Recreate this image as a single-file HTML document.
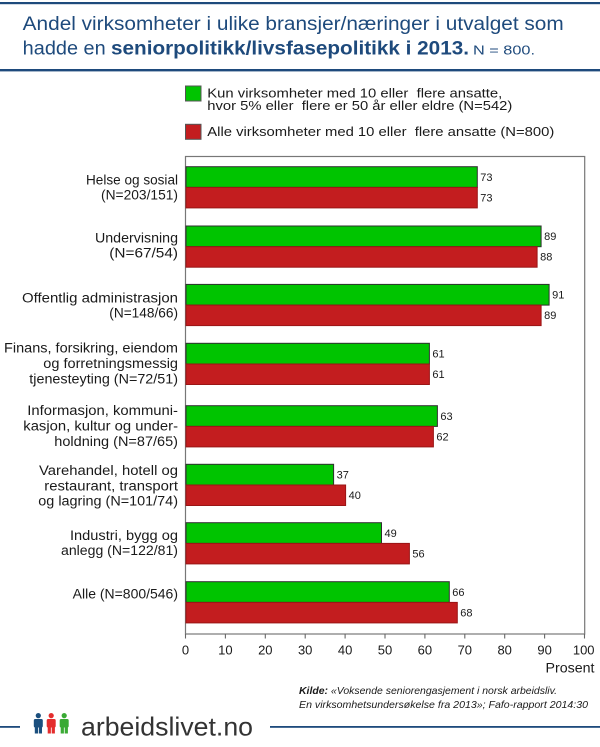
<!DOCTYPE html>
<html>
<head>
<meta charset="utf-8">
<style>
  html, body { margin:0; padding:0; background:#ffffff; }
  svg { display:block; }
  text { font-family: "Liberation Sans", "DejaVu Sans", sans-serif; }
</style>
</head>
<body>
<svg width="600" height="747" viewBox="0 0 600 747" xmlns="http://www.w3.org/2000/svg">
  <rect x="0" y="0" width="600" height="747" fill="#ffffff"/>

  <!-- Header rules -->
  <rect x="0" y="2" width="600" height="2.2" fill="#1e4a7c"/>
  <rect x="0" y="69" width="600" height="2.4" fill="#1e4a7c"/>

  <!-- Title -->
  <text x="22.7" y="30" font-size="19" fill="#1e4a7c" textLength="541" lengthAdjust="spacingAndGlyphs">Andel virksomheter i ulike bransjer/næringer i utvalget som</text>
  <text x="22.7" y="54.3" font-size="19" fill="#1e4a7c" textLength="83" lengthAdjust="spacingAndGlyphs">hadde en</text>
  <text x="111" y="54.3" font-size="19" font-weight="bold" fill="#1e4a7c" textLength="358" lengthAdjust="spacingAndGlyphs">seniorpolitikk/livsfasepolitikk i 2013.</text>
  <text x="473" y="54.3" font-size="13" fill="#1e4a7c" textLength="62" lengthAdjust="spacingAndGlyphs">N = 800.</text>

  <!-- Legend -->
  <rect x="185.5" y="86" width="15.5" height="15" fill="#00c400" stroke="#555" stroke-width="1"/>
  <text x="207.3" y="97.6" font-size="13" fill="#1a1a1a" textLength="295" lengthAdjust="spacingAndGlyphs">Kun virksomheter med 10 eller&#160; flere ansatte,</text>
  <text x="207.3" y="110" font-size="13" fill="#1a1a1a" textLength="305" lengthAdjust="spacingAndGlyphs">hvor 5% eller&#160; flere er 50 år eller eldre (N=542)</text>
  <rect x="185.5" y="124.3" width="15.5" height="15" fill="#c31d1f" stroke="#555" stroke-width="1"/>
  <text x="207.3" y="136" font-size="13" fill="#1a1a1a" textLength="347" lengthAdjust="spacingAndGlyphs">Alle virksomheter med 10 eller&#160; flere ansatte (N=800)</text>

  <!-- Plot box -->
  <rect x="185.5" y="156.5" width="399.2" height="477.5" fill="none" stroke="#777" stroke-width="1.2"/>

  <!-- Bars -->
  <g stroke-width="1">
    <!-- G1 -->
    <rect x="186" y="166.7" width="291.3" height="20.7" fill="#00c400" stroke="#2f2f2f"/>
    <rect x="186" y="187.4" width="291.3" height="20.5" fill="#c31d1f" stroke="#9a1515"/>
    <!-- G2 -->
    <rect x="186" y="226" width="355.1" height="20.7" fill="#00c400" stroke="#2f2f2f"/>
    <rect x="186" y="246.7" width="351.1" height="20.5" fill="#c31d1f" stroke="#9a1515"/>
    <!-- G3 -->
    <rect x="186" y="284.4" width="363.1" height="20.7" fill="#00c400" stroke="#2f2f2f"/>
    <rect x="186" y="305.1" width="355.1" height="20.5" fill="#c31d1f" stroke="#9a1515"/>
    <!-- G4 -->
    <rect x="186" y="343.3" width="243.4" height="20.7" fill="#00c400" stroke="#2f2f2f"/>
    <rect x="186" y="364" width="243.4" height="20.5" fill="#c31d1f" stroke="#9a1515"/>
    <!-- G5 -->
    <rect x="186" y="405.7" width="251.4" height="20.7" fill="#00c400" stroke="#2f2f2f"/>
    <rect x="186" y="426.4" width="247.4" height="20.5" fill="#c31d1f" stroke="#9a1515"/>
    <!-- G6 -->
    <rect x="186" y="464.3" width="147.6" height="20.7" fill="#00c400" stroke="#2f2f2f"/>
    <rect x="186" y="485" width="159.6" height="20.5" fill="#c31d1f" stroke="#9a1515"/>
    <!-- G7 -->
    <rect x="186" y="522.7" width="195.5" height="20.7" fill="#00c400" stroke="#2f2f2f"/>
    <rect x="186" y="543.4" width="223.4" height="20.5" fill="#c31d1f" stroke="#9a1515"/>
    <!-- G8 -->
    <rect x="186" y="581.7" width="263.3" height="20.7" fill="#00c400" stroke="#2f2f2f"/>
    <rect x="186" y="602.4" width="271.3" height="20.5" fill="#c31d1f" stroke="#9a1515"/>
  </g>

  <!-- Value labels -->
  <g font-size="11" fill="#1a1a1a">
    <text x="480.3" y="180.8">73</text>
    <text x="480.3" y="201.4">73</text>
    <text x="544.1" y="240.1">89</text>
    <text x="540.1" y="260.7">88</text>
    <text x="552.1" y="298.5">91</text>
    <text x="544.1" y="319.1">89</text>
    <text x="432.4" y="357.4">61</text>
    <text x="432.4" y="378">61</text>
    <text x="440.4" y="419.8">63</text>
    <text x="436.4" y="440.4">62</text>
    <text x="336.6" y="478.4">37</text>
    <text x="348.6" y="499">40</text>
    <text x="384.5" y="536.8">49</text>
    <text x="412.4" y="557.4">56</text>
    <text x="452.3" y="595.8">66</text>
    <text x="460.3" y="616.4">68</text>
  </g>

  <!-- Category labels -->
  <g font-size="13.5" fill="#1a1a1a" text-anchor="end">
    <text x="178" y="184.3" textLength="92" lengthAdjust="spacingAndGlyphs">Helse og sosial</text>
    <text x="178" y="199.3" textLength="77" lengthAdjust="spacingAndGlyphs">(N=203/151)</text>

    <text x="178" y="242.5" textLength="83" lengthAdjust="spacingAndGlyphs">Undervisning</text>
    <text x="178" y="257.7" textLength="68.7" lengthAdjust="spacingAndGlyphs">(N=67/54)</text>

    <text x="178" y="302.3" textLength="156" lengthAdjust="spacingAndGlyphs">Offentlig administrasjon</text>
    <text x="178" y="317.5" textLength="68.7" lengthAdjust="spacingAndGlyphs">(N=148/66)</text>

    <text x="178" y="352.5" textLength="174" lengthAdjust="spacingAndGlyphs">Finans, forsikring, eiendom</text>
    <text x="178" y="368" textLength="134.7" lengthAdjust="spacingAndGlyphs">og forretningsmessig</text>
    <text x="178" y="383.5" textLength="148.7" lengthAdjust="spacingAndGlyphs">tjenesteyting (N=72/51)</text>

    <text x="178" y="415" textLength="150.7" lengthAdjust="spacingAndGlyphs">Informasjon, kommuni-</text>
    <text x="178" y="430.5" textLength="154.7" lengthAdjust="spacingAndGlyphs">kasjon, kultur og under-</text>
    <text x="178" y="446" textLength="123.7" lengthAdjust="spacingAndGlyphs">holdning (N=87/65)</text>

    <text x="178" y="475" textLength="139" lengthAdjust="spacingAndGlyphs">Varehandel, hotell og</text>
    <text x="178" y="490.3" textLength="133.7" lengthAdjust="spacingAndGlyphs">restaurant, transport</text>
    <text x="178" y="505.5" textLength="139.7" lengthAdjust="spacingAndGlyphs">og lagring (N=101/74)</text>

    <text x="178" y="539.8" textLength="108" lengthAdjust="spacingAndGlyphs">Industri, bygg og</text>
    <text x="178" y="555" textLength="117" lengthAdjust="spacingAndGlyphs">anlegg (N=122/81)</text>

    <text x="178" y="598.3" textLength="105.3" lengthAdjust="spacingAndGlyphs">Alle (N=800/546)</text>
  </g>

  <!-- Ticks -->
  <g stroke="#666" stroke-width="1.1">
    <line x1="185.5" y1="634" x2="185.5" y2="638.5"/>
    <line x1="225.4" y1="634" x2="225.4" y2="638.5"/>
    <line x1="265.3" y1="634" x2="265.3" y2="638.5"/>
    <line x1="305.2" y1="634" x2="305.2" y2="638.5"/>
    <line x1="345.1" y1="634" x2="345.1" y2="638.5"/>
    <line x1="385" y1="634" x2="385" y2="638.5"/>
    <line x1="424.9" y1="634" x2="424.9" y2="638.5"/>
    <line x1="464.8" y1="634" x2="464.8" y2="638.5"/>
    <line x1="504.7" y1="634" x2="504.7" y2="638.5"/>
    <line x1="544.6" y1="634" x2="544.6" y2="638.5"/>
    <line x1="584.5" y1="634" x2="584.5" y2="638.5"/>
  </g>
  <g font-size="13" fill="#1a1a1a" text-anchor="middle">
    <text x="185.5" y="654.5">0</text>
    <text x="225.4" y="654.5">10</text>
    <text x="265.3" y="654.5">20</text>
    <text x="305.2" y="654.5">30</text>
    <text x="345.1" y="654.5">40</text>
    <text x="385" y="654.5">50</text>
    <text x="424.9" y="654.5">60</text>
    <text x="464.8" y="654.5">70</text>
    <text x="504.7" y="654.5">80</text>
    <text x="544.6" y="654.5">90</text>
    <text x="583.7" y="654.5">100</text>
  </g>
  <text x="594.5" y="672.5" font-size="13.5" fill="#1a1a1a" text-anchor="end" textLength="49" lengthAdjust="spacingAndGlyphs">Prosent</text>

  <!-- Source -->
  <text x="299" y="694" font-size="10.5" font-style="italic" fill="#1a1a1a" textLength="258" lengthAdjust="spacingAndGlyphs"><tspan font-weight="bold">Kilde:</tspan> «Voksende seniorengasjement i norsk arbeidsliv.</text>
  <text x="299" y="708" font-size="10.5" font-style="italic" fill="#1a1a1a" textLength="289" lengthAdjust="spacingAndGlyphs">En virksomhetsundersøkelse fra 2013»; Fafo-rapport 2014:30</text>

  <!-- Footer logo -->
  <rect x="0" y="726" width="20" height="1.8" fill="#1e4a7c"/>
  <rect x="270" y="726" width="330" height="1.8" fill="#1e4a7c"/>

  <g fill="#1b4f7e">
    <circle cx="38.3" cy="715.6" r="2.6"/>
    <rect x="33.8" y="719" width="9" height="8.5" rx="1.5"/>
    <rect x="34.8" y="726" width="3.2" height="7.5"/>
    <rect x="38.8" y="726" width="3.2" height="7.5"/>
  </g>
  <g fill="#e42d2d">
    <circle cx="51.2" cy="715.6" r="2.6"/>
    <rect x="46.7" y="719" width="9" height="8.5" rx="1.5"/>
    <rect x="47.7" y="726" width="3.2" height="7.5"/>
    <rect x="51.7" y="726" width="3.2" height="7.5"/>
  </g>
  <g fill="#3aaa35">
    <circle cx="64.2" cy="715.6" r="2.6"/>
    <rect x="59.7" y="719" width="9" height="8.5" rx="1.5"/>
    <rect x="60.7" y="726" width="3.2" height="7.5"/>
    <rect x="64.7" y="726" width="3.2" height="7.5"/>
  </g>
  <text x="81" y="735.5" font-size="26" fill="#333333" textLength="172" lengthAdjust="spacingAndGlyphs">arbeidslivet.no</text>
</svg>
</body>
</html>
